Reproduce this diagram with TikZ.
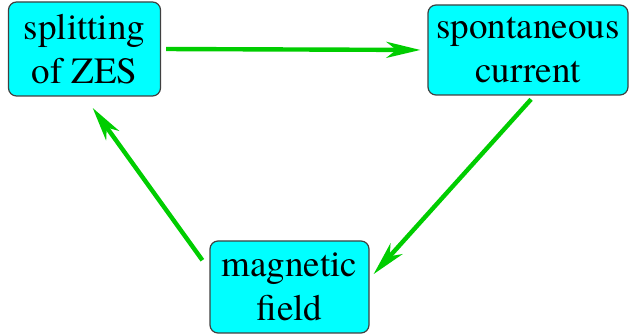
\documentclass[tikz,border=0pt]{standalone}
\usepackage{fontspec}
\setmainfont{TeX Gyre Termes}
\usepackage{xcolor}
\definecolor{boxfill}{RGB}{0, 255, 255}
\definecolor{arrowgreen}{RGB}{0, 205, 0}
\usepackage{tikz}
\usetikzlibrary{arrows.meta}

\begin{document}
\begin{tikzpicture}[x = 0.5pt, y = -0.5pt,
	stage/.style = {draw = black!75, line width = 0.6pt, fill = boxfill, rounded corners = 4pt, align = center, inner sep = 0pt, font = \fontsize{18.5}{22}\selectfont},
	flow/.style = {draw = arrowgreen, line width = 2.2pt, -{Stealth[length = 17pt, width = 8pt, inset = 5pt]}}]
	\useasboundingbox (0, 0) rectangle (632, 335);
	% the three boxes
	\node[stage, minimum width = 76pt, minimum height = 47pt] (zes) at (84.5, 49) {splitting\\of ZES};
	\node[stage, minimum width = 100pt, minimum height = 45pt] (cur) at (528, 50) {spontaneous\\current};
	\node[stage, minimum width = 79.5pt, minimum height = 46pt] (field) at (289.5, 287) {magnetic\\field};
	% the loop
	\draw[flow, shorten < = 2.5pt, shorten > = 3.5pt] (zes.east) -- (cur.west);
	\draw[flow, shorten < = 2.5pt, shorten > = 3pt] (cur.-82) -- (field.6);
	\draw[flow, shorten < = 6pt, shorten > = 7pt] (field.168) -- (zes.south);
\end{tikzpicture}
\end{document}
